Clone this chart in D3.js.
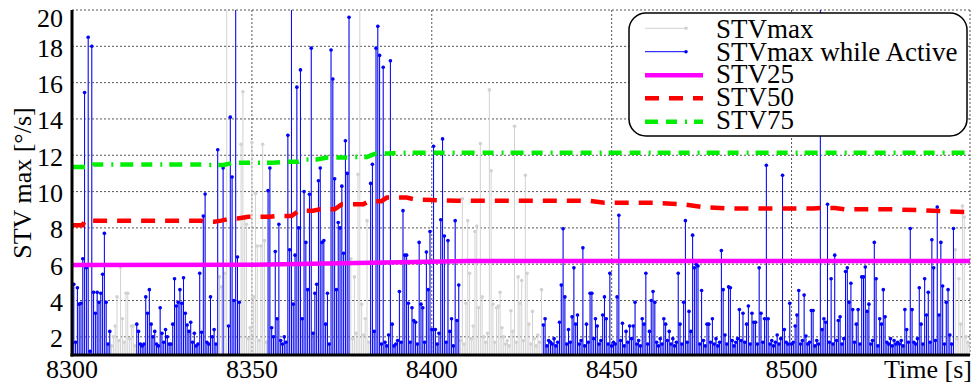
<!DOCTYPE html>
<html>
<head>
<meta charset="utf-8">
<script src="https://cdn.jsdelivr.net/npm/d3@7"></script>
<style>
  html, body { margin: 0; padding: 0; background: #fff; }
  svg { display: block; font-family: "Liberation Serif", "Times New Roman", serif; }
</style>
</head>
<body>
<svg id="chart" width="974" height="385"></svg>
<script>
// Sampling grid of the STVmax signal
const startTime = 8300;
const sampleStep = 0.5;
const timeMax = 8549.6;

// STVmax per sample [°/s], 10 s per row
const stvMax = [
  1.6, 4.9, 1.7, 4.7, 3.8, 3.85, 6.3, 15.45, 5.8, 18.5, 1.2, 18.0, 4.45, 3.3, 4.45, 3.9, 4.4, 5.45, 7.7, 3.9,
  1.6, 2.3, 1.5, 2.0, 2.6, 4.2, 1.8, 5.85, 3.0, 1.7, 4.4, 4.4, 1.9, 2.6, 2.6, 1.5, 2.7, 2.3, 1.6, 1.5,
  1.6, 4.2, 3.3, 4.6, 2.7, 2.0, 2.3, 1.6, 1.5, 3.6, 2.2, 1.7, 2.4, 2.0, 1.6, 1.6, 2.7, 5.2, 3.7, 3.9,
  4.6, 3.85, 5.25, 3.3, 2.65, 2.3, 2.8, 1.7, 2.2, 1.5, 1.6, 5.5, 2.25, 8.65, 9.86, 1.7, 1.6, 4.2, 2.0, 2.4,
  1.6, 12.3, 5.3, 4.75, 11.3, 5.5, 22, 2.6, 14.1, 10.8, 4.0, 22, 6.4, 3.9, 12.6, 15.5, 8.5, 8.2, 1.9, 2.5,
  12.7, 4.2, 9.9, 7.0, 1.8, 7.0, 12.6, 7.3, 1.7, 10.05, 11.3, 2.5, 2.0, 6.7, 3.0, 8.2, 1.8, 1.6, 2.0, 1.7,
  13.1, 6.8, 22, 3.8, 6.5, 15.75, 8.0, 16.7, 3.0, 10.0, 7.2, 4.6, 9.85, 17.9, 2.2, 4.4, 4.9, 10.6, 11.3, 7.2,
  7.3, 2.7, 4.4, 1.6, 17.8, 16.2, 10.7, 4.6, 8.3, 8.0, 10.3, 6.6, 12.8, 11.0, 19.6, 6.3, 1.9, 5.3, 2.2, 10.95,
  22, 3.8, 2.1, 3.0, 8.4, 1.7, 10.45, 11.5, 2.3, 17.9, 19.1, 17.5, 1.6, 16.85, 1.7, 1.5, 2.1, 17.2, 2.7, 1.5,
  1.6, 1.8, 4.5, 1.7, 8.95, 6.5, 6.5, 3.85, 1.7, 3.6, 2.9, 2.8, 1.6, 7.2, 3.8, 3.6, 1.7, 6.67, 4.6, 7.8,
  2.4, 12.5, 2.4, 1.6, 2.2, 8.45, 12.9, 7.55, 1.7, 7.3, 2.3, 3.0, 1.5, 8.4, 2.9, 4.85, 1.8, 9.6, 1.6, 3.85,
  8.4, 5.5, 1.9, 2.6, 7.8, 8.1, 3.6, 12.65, 4.2, 2.0, 1.7, 2.2, 15.6, 11.15, 3.8, 1.7, 3.6, 3.7, 4.45, 2.5,
  2.0, 1.6, 1.8, 1.5, 3.44, 2.3, 13.6, 1.7, 5.3, 3.85, 5.1, 1.8, 10.9, 5.5, 2.7, 1.6, 3.4, 1.9, 1.5, 2.1,
  1.7, 4.6, 2.65, 3.0, 1.5, 1.8, 1.7, 1.6, 1.9, 1.5, 1.7, 2.8, 4.85, 7.95, 4.2, 1.6, 2.4, 1.7, 3.1, 5.8,
  2.7, 3.2, 1.6, 1.8, 6.9, 1.5, 2.7, 1.7, 4.4, 4.4, 1.9, 3.0, 2.6, 1.6, 1.8, 3.2, 4.2, 3.0, 1.6, 5.5,
  1.5, 1.7, 1.6, 4.2, 8.7, 1.8, 2.75, 1.5, 2.3, 1.7, 2.6, 1.9, 2.6, 3.9, 1.6, 1.8, 1.5, 3.0, 2.7, 5.5,
  1.6, 2.3, 4.0, 4.5, 3.9, 1.7, 1.5, 1.9, 1.6, 3.0, 2.7, 1.8, 2.3, 1.6, 1.9, 1.5, 1.7, 5.5, 2.7, 1.6,
  3.9, 8.4, 1.7, 3.4, 2.3, 7.6, 5.8, 6.0, 5.9, 1.6, 4.55, 1.8, 1.5, 2.7, 2.7, 1.7, 3.0, 1.6, 1.9, 1.5,
  1.7, 6.75, 4.6, 2.1, 1.6, 4.75, 4.7, 1.8, 1.5, 1.7, 1.9, 3.5, 1.8, 3.3, 1.7, 2.7, 3.7, 1.6, 3.3, 2.8,
  2.8, 1.6, 5.8, 3.3, 1.7, 3.0, 11.45, 3.0, 1.6, 1.8, 1.5, 1.7, 2.1, 1.6, 1.9, 10.9, 2.4, 1.7, 1.6, 3.85,
  1.6, 1.7, 2.6, 3.2, 4.55, 1.6, 1.8, 4.3, 2.05, 1.6, 1.7, 3.45, 3.45, 1.5, 1.8, 1.6, 22, 2.4, 3.0, 2.8,
  9.3, 1.7, 5.2, 1.6, 6.5, 1.8, 2.9, 3.1, 1.6, 1.9, 5.6, 5.8, 3.9, 4.95, 3.5, 1.7, 2.7, 3.5, 1.6, 5.3,
  5.3, 5.85, 3.4, 3.8, 1.6, 1.8, 7.2, 5.2, 1.5, 3.0, 2.7, 4.6, 3.1, 1.7, 1.6, 1.9, 1.5, 1.8, 1.6, 1.7,
  1.6, 1.8, 1.5, 3.5, 2.4, 1.7, 7.97, 3.5, 1.7, 1.6, 1.9, 4.7, 2.7, 1.6, 5.2, 3.2, 4.45, 1.7, 7.35, 5.8,
  1.8, 9.15, 3.2, 7.2, 4.8, 1.6, 3.9, 4.6, 2.1, 1.6, 7.97, 6.8, 1.9, 5.2, 2.7, 9.2, 8.6, 2.0, 1.7, 1.5
];

// Time spans [s] during which the subject was active
const activeSpans = [
  [8300, 8310.75], [8317.75, 8340.75], [8341.75, 8342.25], [8343.25, 8346.75],
  [8354.25, 8377.25], [8382.75, 8407.75], [8430.75, 8545.25]
];

// Running percentile levels (breakpoints)
const stv25Time  = [8300, 8350, 8395, 8410, 8549.6];
const stv25Value = [5.95, 5.97, 6.12, 6.17, 6.17];

const stv50Time  = [8300, 8303, 8303.5, 8336, 8337, 8339.5, 8341.5, 8344, 8346, 8349,
                    8355, 8357, 8361, 8363, 8367, 8369, 8373, 8375, 8381, 8382.5,
                    8386, 8387.5, 8393, 8395.5, 8400, 8407, 8444, 8448, 8462, 8470,
                    8475, 8483, 8506, 8508, 8512, 8515, 8528, 8535, 8544, 8549.6];
const stv50Value = [8.15, 8.15, 8.39, 8.39, 8.34, 8.34, 8.4, 8.52, 8.52, 8.61,
                    8.61, 8.65, 8.65, 8.94, 8.94, 9.02, 9.02, 9.3, 9.3, 9.47,
                    9.47, 9.67, 9.67, 9.56, 9.53, 9.49, 9.49, 9.38, 9.38, 9.3,
                    9.15, 9.07, 9.07, 9.1, 9.1, 9.02, 9.02, 8.98, 8.9, 8.87];

const stv75Time  = [8300, 8305, 8306, 8336, 8337.5, 8342, 8345, 8350, 8356, 8359,
                    8363, 8364.5, 8368, 8371, 8377, 8378.5, 8382, 8384.5, 8388, 8391, 8549.6];
const stv75Value = [11.36, 11.36, 11.49, 11.49, 11.46, 11.46, 11.59, 11.59, 11.59, 11.64,
                    11.64, 11.77, 11.77, 11.88, 11.88, 11.91, 11.91, 12.1, 12.1, 12.14, 12.14];

// Axis ticks and labels
const xTicks = [8300, 8350, 8400, 8450, 8500];
const yTicks = [2, 4, 6, 8, 10, 12, 14, 16, 18, 20];
const xLabel = "Time [s]";
const yLabel = "STV max [°/s]";
const legendLabels = ["STVmax", "STVmax while Active", "STV25", "STV50", "STV75"];

// ---- drawing ----
const svg = d3.select("#chart");
const plotLeft = 72, plotRight = 970, plotTop = 10, plotBottom = 355;

const x = d3.scaleLinear().domain([startTime, timeMax]).range([plotLeft, plotRight]);
const y = d3.scaleLinear().domain([1, 20]).range([plotBottom, plotTop]);

const gray = "#d2d2d2", blue = "#0000ff", magenta = "#ff00ff", red = "#ff0000", green = "#00ee00";
const dashRed = "14,10";
const dashGreen = "13,8,11,8,2,7";

svg.append("defs").append("clipPath").attr("id", "plotClip")
  .append("rect").attr("x", plotLeft).attr("y", plotTop)
  .attr("width", plotRight - plotLeft).attr("height", plotBottom - plotTop);

// grid
const grid = svg.append("g").attr("stroke", "#555").attr("stroke-width", 1).attr("stroke-dasharray", "2,2");
grid.selectAll("line.gx").data(xTicks.slice(1).concat([timeMax])).join("line")
  .attr("x1", d => x(d)).attr("x2", d => x(d)).attr("y1", plotTop).attr("y2", plotBottom);
grid.selectAll("line.gy").data(yTicks).join("line")
  .attr("x1", plotLeft).attr("x2", plotRight).attr("y1", d => y(d)).attr("y2", d => y(d));

// samples
const samples = stvMax.map((v, i) => ({ t: startTime + i * sampleStep, v }));
const isActive = t => activeSpans.some(([a, b]) => t >= a && t <= b);
const activeSamples = samples.filter(d => isActive(d.t));

const plot = svg.append("g").attr("clip-path", "url(#plotClip)");

function stems(data, color) {
  const g = plot.append("g");
  g.selectAll("line").data(data).join("line")
    .attr("x1", d => x(d.t)).attr("x2", d => x(d.t))
    .attr("y1", y(0)).attr("y2", d => y(d.v))
    .attr("stroke", color).attr("stroke-width", 1);
  g.selectAll("circle").data(data).join("circle")
    .attr("cx", d => x(d.t)).attr("cy", d => y(d.v)).attr("r", 1.8)
    .attr("fill", color);
}
stems(samples, gray);
stems(activeSamples, blue);

// percentile lines
const pline = d3.line().x(d => x(d[0])).y(d => y(d[1]));
function level(ts, vs, color, width, dash) {
  plot.append("path").datum(ts.map((t, i) => [t, vs[i]]))
    .attr("d", pline).attr("fill", "none").attr("stroke", color)
    .attr("stroke-width", width).attr("stroke-dasharray", dash);
}
level(stv25Time, stv25Value, magenta, 4.5, null);
level(stv50Time, stv50Value, red, 4.5, dashRed);
level(stv75Time, stv75Value, green, 4.5, dashGreen);

// axes
svg.append("line").attr("x1", plotLeft).attr("x2", plotLeft).attr("y1", plotTop).attr("y2", plotBottom + 1.5)
  .attr("stroke", "#000").attr("stroke-width", 3);
svg.append("line").attr("x1", plotLeft - 1.5).attr("x2", plotRight).attr("y1", plotBottom).attr("y2", plotBottom)
  .attr("stroke", "#000").attr("stroke-width", 3);

const fs = 26;
svg.append("g").selectAll("text").data(yTicks).join("text")
  .attr("x", 63).attr("y", d => d === 20 ? y(d) + 17.3 : y(d) + 10.5)
  .attr("text-anchor", "end").attr("font-size", fs).text(d => d);
svg.append("g").selectAll("text").data(xTicks).join("text")
  .attr("x", d => x(d)).attr("y", 378)
  .attr("text-anchor", "middle").attr("font-size", fs).text(d => d);
svg.append("text").attr("x", 972).attr("y", 378).attr("text-anchor", "end")
  .attr("font-size", fs).text(xLabel);
svg.append("text").attr("transform", "translate(31,183) rotate(-90)")
  .attr("text-anchor", "middle").attr("font-size", fs).text(yLabel);

// legend
const lg = svg.append("g");
lg.append("rect").attr("x", 629).attr("y", 13).attr("width", 338).attr("height", 123)
  .attr("rx", 17).attr("fill", "#fff").attr("stroke", "#000").attr("stroke-width", 1.5);
const rowY = [28.3, 51.7, 75.3, 98.3, 121.7];
const rowBase = [37.5, 60.7, 83.2, 105.7, 128.7];
[gray, blue].forEach((c, i) => {
  lg.append("line").attr("x1", 645).attr("x2", 686).attr("y1", rowY[i]).attr("y2", rowY[i])
    .attr("stroke", c).attr("stroke-width", 1);
  lg.append("circle").attr("cx", 686).attr("cy", rowY[i]).attr("r", 1.8).attr("fill", c);
});
[[magenta, null], [red, dashRed], [green, dashGreen]].forEach(([c, dsh], k) => {
  const i = k + 2;
  lg.append("line").attr("x1", 645).attr("x2", 703).attr("y1", rowY[i]).attr("y2", rowY[i])
    .attr("stroke", c).attr("stroke-width", 4.5).attr("stroke-dasharray", dsh);
});
lg.selectAll("text").data(legendLabels).join("text")
  .attr("x", 716).attr("y", (d, i) => rowBase[i]).attr("font-size", 27).text(d => d);
</script>
</body>
</html>
